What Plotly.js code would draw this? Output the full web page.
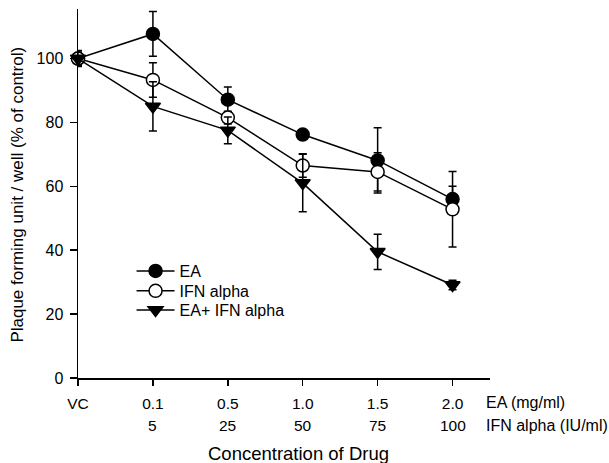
<!DOCTYPE html>
<html>
<head>
<meta charset="utf-8">
<script src="https://cdn.plot.ly/plotly-3.0.1.min.js"></script>
<style>html,body{margin:0;padding:0;background:#fff;}#chart{width:609px;height:463px;}</style>
</head>
<body>
<div id="chart"></div>
<script>
// Categories (x positions are category indices)
const eaDoses = ['VC', '0.1', '0.5', '1.0', '1.5', '2.0'];
const ifnDoses = ['', '5', '25', '50', '75', '100'];

// Series values (% of control) and error bars
const eaValues = [100, 107.7, 87.1, 76.2, 68.1, 56.0];
const eaErrors = [2.5, 7.0, 4.0, 1.0, 10.2, 4.0];
const ifnValues = [100, 93.3, 81.5, 66.5, 64.5, 52.8];
const ifnErrors = [2.0, 5.4, 2.0, 3.7, 6.0, 11.8];
const comboValues = [100, 85.0, 77.5, 61.0, 39.5, 29.1];
const comboErrors = [2.0, 7.7, 4.2, 9.0, 5.5, 1.5];

const seriesNames = ['EA', 'IFN alpha', 'EA+ IFN alpha'];
const yTicks = [0, 20, 40, 60, 80, 100];

const xIdx = eaDoses.map((_, i) => i);

const FONT = 'Liberation Sans, Arial, Helvetica, sans-serif';
const TICK = 15.5;
const errStyle = {type: 'data', visible: true, color: '#000', thickness: 1.5, width: 4};

function trace(name, y, err, symbol, fill, legendId) {
  return {
    type: 'scatter', mode: 'lines+markers', name: name, legend: legendId,
    x: xIdx, y: y,
    error_y: Object.assign({array: err}, errStyle),
    line: {color: '#000', width: 1.5},
    marker: {symbol: symbol, size: 13, color: fill, line: {color: '#000', width: 1.5}},
    cliponaxis: false
  };
}

const data = [
  trace(seriesNames[0], eaValues, eaErrors, 'circle', '#000', 'legend'),
  trace(seriesNames[1], ifnValues, ifnErrors, 'circle', '#fff', 'legend2'),
  trace(seriesNames[2], comboValues, comboErrors, 'triangle-down', '#000', 'legend3')
];

function legendAt(y) {
  return {
    x: 0.13, y: y, xanchor: 'left', yanchor: 'top',
    bgcolor: 'rgba(0,0,0,0)', borderwidth: 0, itemwidth: 38,
    font: {family: FONT, size: 16, color: '#000'}
  };
}

// second row of x tick labels (IFN alpha doses), placed at each category
const ifnRow = ifnDoses.map((t, i) => ({
  text: t, xref: 'x', yref: 'paper', x: i, y: 0, xanchor: 'center', yanchor: 'middle',
  yshift: -47, showarrow: false, font: {family: FONT, size: TICK, color: '#000'}
})).filter(a => a.text);

const layout = {
  width: 609, height: 463,
  margin: {l: 78, r: 119, t: 9, b: 85},
  paper_bgcolor: '#fff', plot_bgcolor: '#fff',
  font: {family: FONT, size: TICK, color: '#000'},
  showlegend: true,
  legend: legendAt(0.336),
  legend2: legendAt(0.282),
  legend3: legendAt(0.230),
  xaxis: {
    range: [0, 5.5], showgrid: false, zeroline: false,
    showline: true, linecolor: '#000', linewidth: 1.5,
    ticks: 'outside', ticklen: 6, tickwidth: 1.5, tickcolor: '#000',
    ticklabelstandoff: 5,
    tickvals: xIdx, ticktext: eaDoses,
    tickfont: {family: FONT, size: TICK, color: '#000'}
  },
  yaxis: {
    range: [0, 115.5], showgrid: false, zeroline: false,
    showline: true, linecolor: '#000', linewidth: 1.5,
    ticks: 'outside', ticklen: 7, tickwidth: 1.5, tickcolor: '#000',
    ticklabelstandoff: 3,
    tickvals: yTicks,
    tickfont: {family: FONT, size: 16, color: '#000'}
  },
  annotations: ifnRow.concat([
    {text: 'EA (mg/ml)', xref: 'paper', yref: 'paper', x: 0.985, y: 0, xanchor: 'left', yanchor: 'middle', yshift: -24, showarrow: false, font: {family: FONT, size: 16, color: '#000'}},
    {text: 'IFN alpha (IU/ml)', xref: 'paper', yref: 'paper', x: 0.985, y: 0, xanchor: 'left', yanchor: 'middle', yshift: -47, showarrow: false, font: {family: FONT, size: 16, color: '#000'}},
    {text: 'Concentration of Drug', xref: 'paper', yref: 'paper', x: 0.534, y: 0, xanchor: 'center', yanchor: 'middle', yshift: -75, showarrow: false, font: {family: FONT, size: 18.5, color: '#000'}},
    {text: 'Plaque forming unit / well (% of control)', xref: 'paper', yref: 'paper', x: 0, y: 0.497, xanchor: 'center', yanchor: 'middle', xshift: -60, textangle: -90, showarrow: false, font: {family: FONT, size: 17, color: '#000'}}
  ])
};

Plotly.newPlot('chart', data, layout, {staticPlot: true, displayModeBar: false});
</script>
</body>
</html>
